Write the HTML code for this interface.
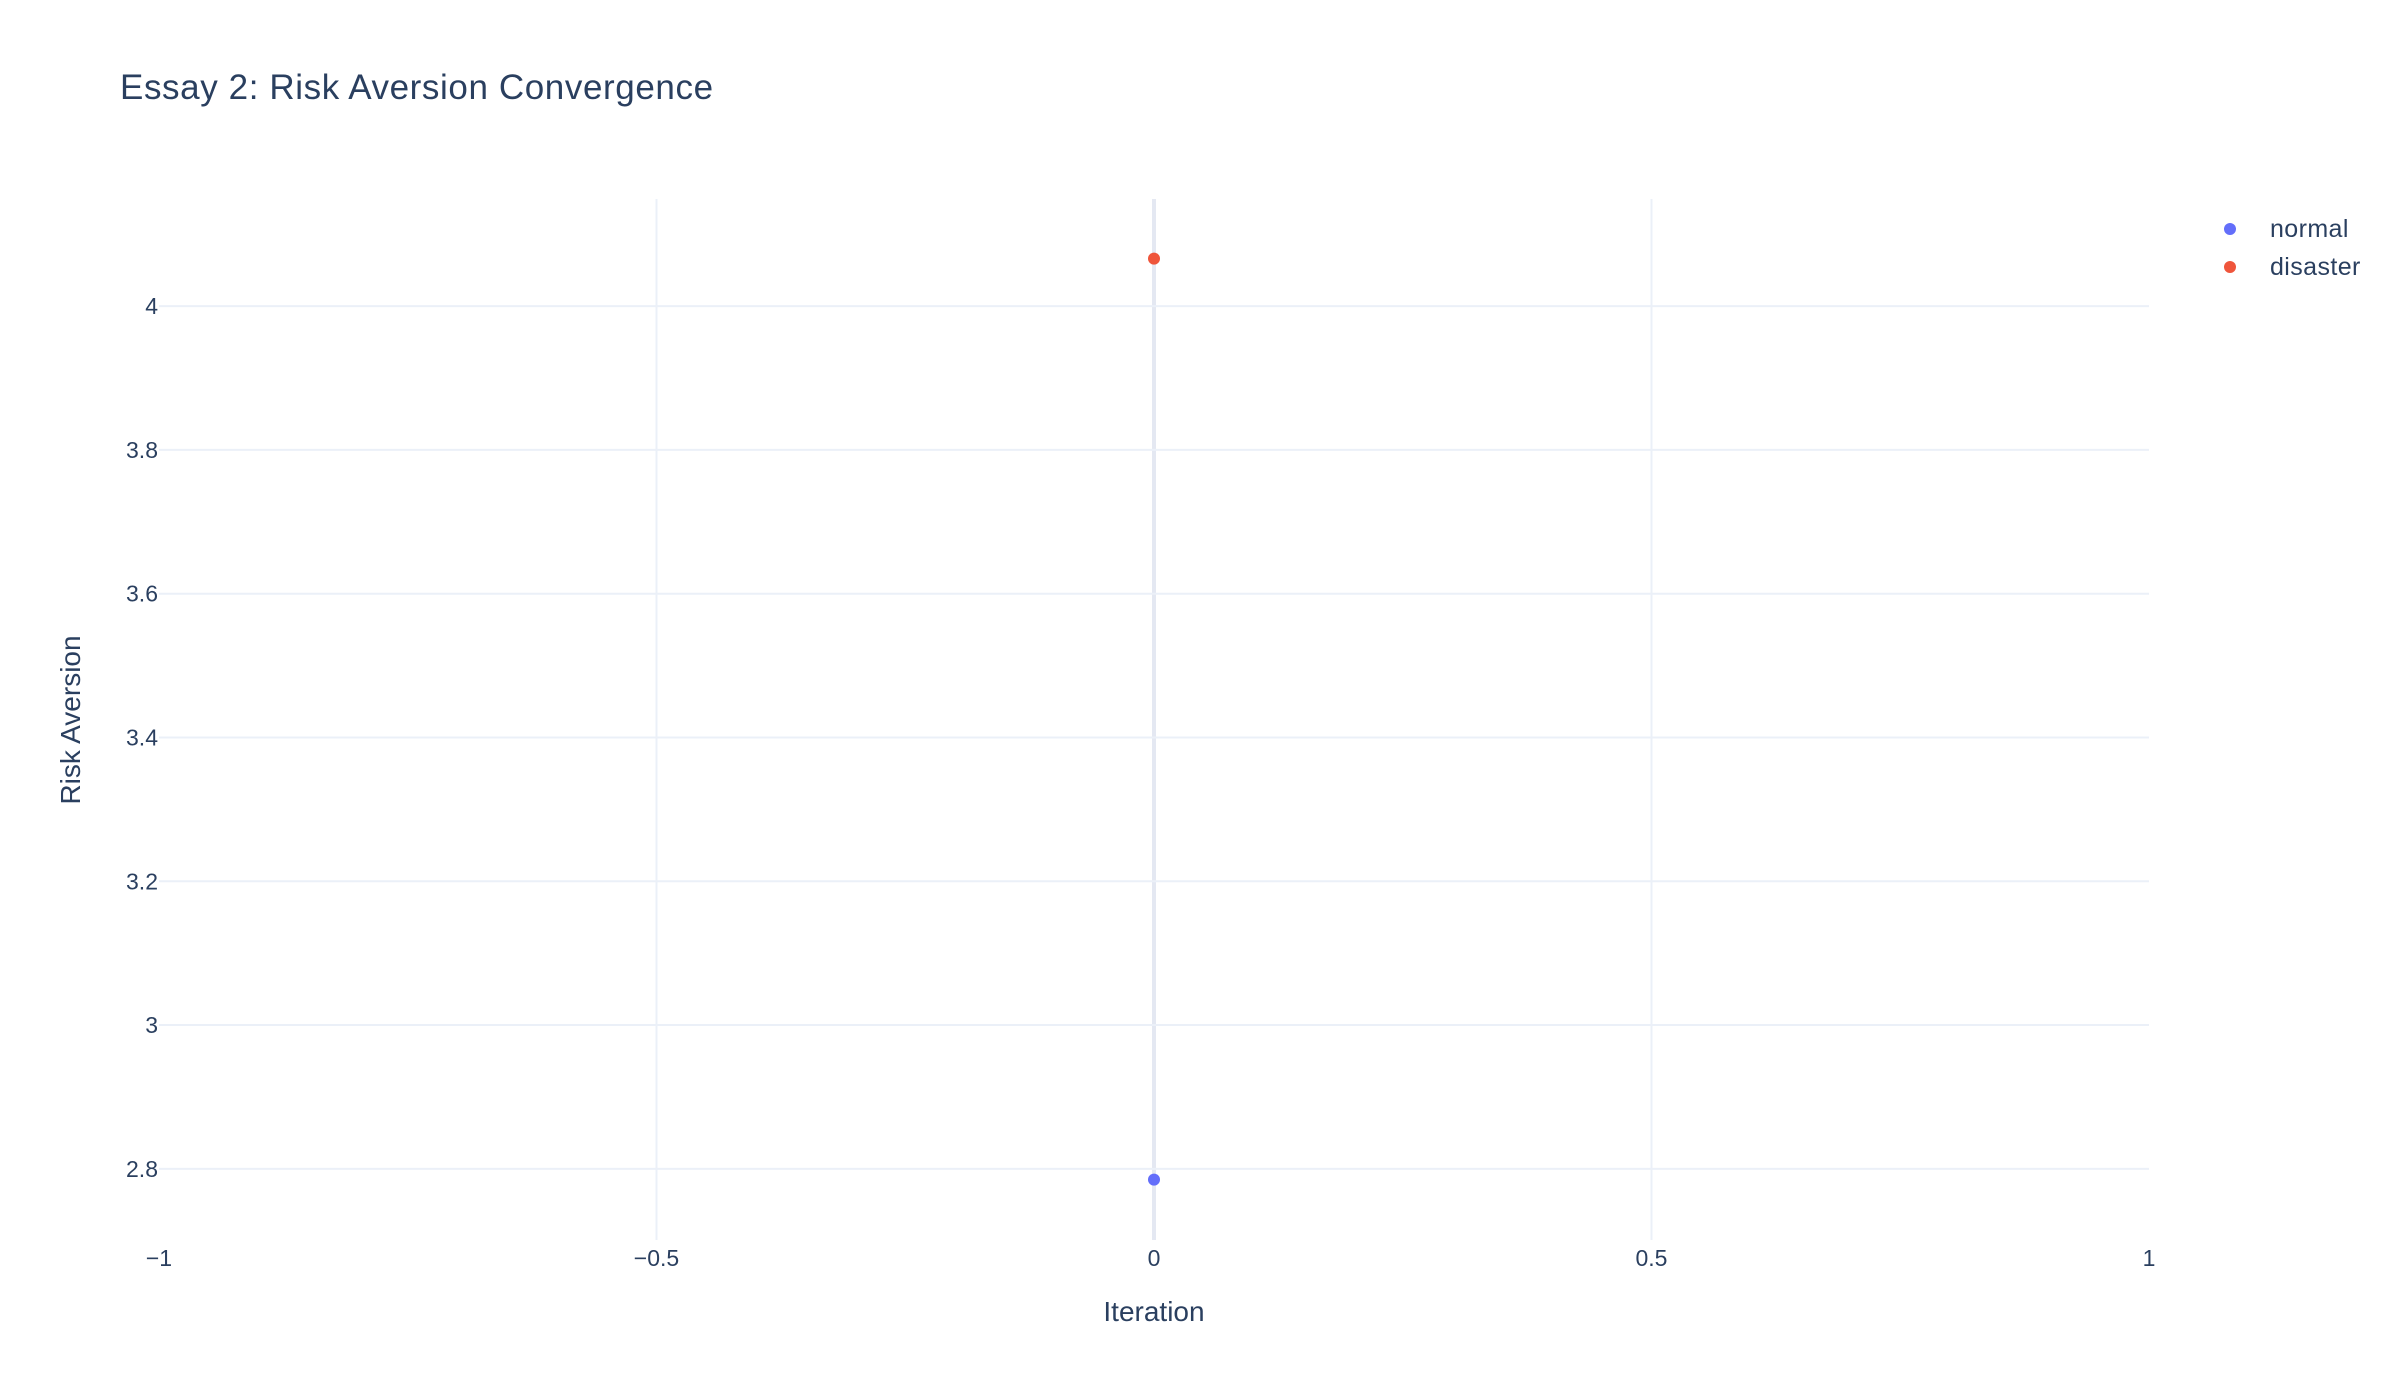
<!DOCTYPE html>
<html><head><meta charset="utf-8"><style>
html,body{margin:0;padding:0;background:#fff;}
svg{display:block;font-family:"Liberation Sans",Arial,sans-serif;}
</style></head><body>
<svg id="chart" width="2400" height="1400">
<rect width="2400" height="1400" fill="#fff"/>
<text x="120" y="99" font-size="35" fill="#2a3f5f" letter-spacing="0.6">Essay 2: Risk Aversion Convergence</text>
<g id="grid"></g>
<g id="ticks"></g>
<g id="marks"></g>
<text x="1154" y="1321" font-size="28" fill="#2a3f5f" text-anchor="middle">Iteration</text>
<text transform="translate(80,720) rotate(-90)" font-size="28" fill="#2a3f5f" text-anchor="middle">Risk Aversion</text>
<g id="legend"></g>
</svg>
<script>
const seriesNames = ["normal", "disaster"];
const seriesColors = ["#636efa", "#EF553B"];
const iterations = [0, 0];
const riskValues = [2.785, 4.066];
const xTicks = [-1, -0.5, 0, 0.5, 1];
const xTickLabels = ["\u22121", "\u22120.5", "0", "0.5", "1"];
const yTicks = [2.8, 3, 3.2, 3.4, 3.6, 3.8, 4];
const yTickLabels = ["2.8", "3", "3.2", "3.4", "3.6", "3.8", "4"];

const L=159,R=2149,T=199,B=1240, xmin=-1,xmax=1, ymin=2.701,ymax=4.149;
const sx=v=>L+(v-xmin)/(xmax-xmin)*(R-L);
const sy=v=>B-(v-ymin)/(ymax-ymin)*(B-T);
const NS="http://www.w3.org/2000/svg";
function mk(tag,attrs,parent,txt){const e=document.createElementNS(NS,tag);for(const k in attrs)e.setAttribute(k,attrs[k]);if(txt!==undefined)e.textContent=txt;parent.appendChild(e);return e;}
const grid=document.getElementById('grid'),ticks=document.getElementById('ticks'),marks=document.getElementById('marks'),legend=document.getElementById('legend');
xTicks.forEach((v,i)=>{
  if(v>xmin&&v<xmax){const g=mk('line',{x1:sx(v),x2:sx(v),y1:T,y2:B,stroke:v===0?'#e4e8f2':'#ebf0f8','stroke-width':v===0?4:2},grid);
  
  }
  const t=mk('text',{x:sx(v),y:1266,'font-size':23,fill:'#2a3f5f','text-anchor':'middle'},ticks,xTickLabels[i]);
  
  
});
yTicks.forEach((v,i)=>{
  const g=mk('line',{x1:L,x2:R,y1:sy(v),y2:sy(v),stroke:'#ebf0f8','stroke-width':2},grid);
  
  
  const t=mk('text',{x:158,y:sy(v)+8,'font-size':23,fill:'#2a3f5f','text-anchor':'end'},ticks,yTickLabels[i]);
  
  
});
seriesNames.forEach((n,i)=>{
  const c=mk('circle',{cx:sx(iterations[i]),cy:sy(riskValues[i]),r:6,fill:seriesColors[i]},marks);
  
  
  const y=229+i*38;
  const g=mk('g',{},legend);
  
  
  mk('circle',{cx:2230,cy:y,r:6,fill:seriesColors[i]},g);
  mk('text',{x:2270,y:y+8,'font-size':25,fill:'#2a3f5f','letter-spacing':0.4},g,n);
});
</script>
</body></html>
